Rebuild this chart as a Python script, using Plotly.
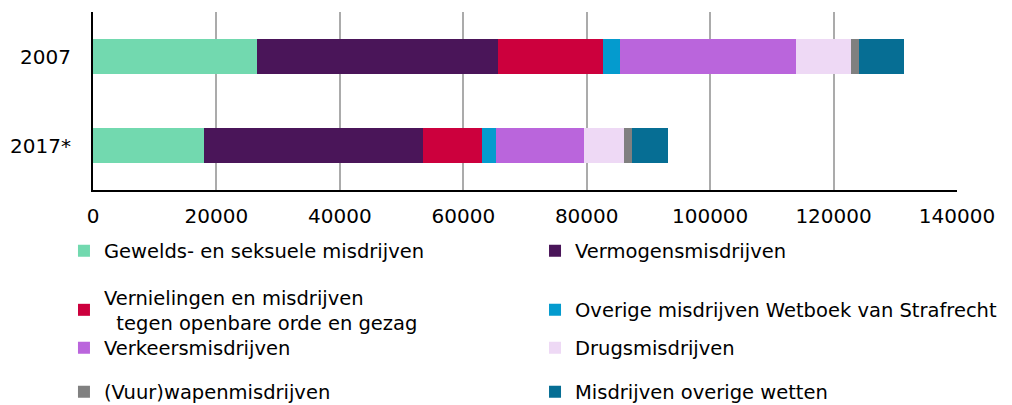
import plotly.graph_objects as go

categories = ["2007", "2017*"]
series_names = [
    "Gewelds- en seksuele misdrijven",
    "Vermogensmisdrijven",
    "Vernielingen en misdrijven<br>\u00a0\u00a0tegen openbare orde en gezag",
    "Overige misdrijven Wetboek van Strafrecht",
    "Verkeersmisdrijven",
    "Drugsmisdrijven",
    "(Vuur)wapenmisdrijven",
    "Misdrijven overige wetten",
]
gewelds = [26500, 18000]
vermogens = [39200, 35400]
vernielingen = [17000, 9650]
overige_sr = [2750, 2200]
verkeers = [28500, 14250]
drugs = [8800, 6600]
wapen = [1400, 1200]
overige_wetten = [7300, 5850]
values = [gewelds, vermogens, vernielingen, overige_sr, verkeers, drugs, wapen, overige_wetten]
colors = ["#72D9AF", "#4A1559", "#CC003D", "#049BCE", "#BA65DC", "#EED9F5", "#808080", "#066E94"]
x_ticks = [0, 20000, 40000, 60000, 80000, 100000, 120000, 140000]

FONT = "DejaVu Sans"
FS = 20
LFS = 19.5
fig = go.Figure()
legend_ids = ["legend", "legend2", "legend3", "legend4", "legend5", "legend6", "legend7", "legend8"]
for name, vals, col, lid in zip(series_names, values, colors, legend_ids):
    fig.add_trace(go.Bar(
        y=categories, x=vals, name=name, orientation="h",
        marker=dict(color=col, line=dict(width=0)), legend=lid,
    ))

# legend placement (paper coords)
col_x = [-0.0336, 0.5116]
row_y = [-0.3427, -0.674, -0.8876, -1.1348]
layout_legends = {}
for i, lid in enumerate(legend_ids):
    layout_legends[lid] = dict(
        x=col_x[i % 2], y=row_y[i // 2], xanchor="left", yanchor="middle",
        orientation="v", font=dict(family=FONT, size=LFS, color="#000000"),
        bgcolor="rgba(0,0,0,0)", borderwidth=0,
    )

fig.update_layout(
    barmode="stack",
    bargap=0.6,
    width=1004, height=397,
    margin=dict(l=85, r=55, t=4, b=215, autoexpand=False),
    plot_bgcolor="white", paper_bgcolor="white",
    font=dict(family=FONT, size=FS, color="#000000"),
    showlegend=True,
    xaxis=dict(
        range=[0, 140000], tickvals=x_ticks, ticktext=[str(v) for v in x_ticks],
        showgrid=True, gridcolor="#ABABAB", gridwidth=2,
        showline=True, linecolor="#000000", linewidth=2,
        ticks="", zeroline=False, ticklabelstandoff=7,
        tickfont=dict(family=FONT, size=FS),
    ),
    yaxis=dict(
        autorange="reversed", showgrid=False,
        showline=True, linecolor="#000000", linewidth=2,
        ticks="", ticklabelstandoff=16,
        tickfont=dict(family=FONT, size=FS),
    ),
    **layout_legends,
)

fig.write_html("out.html")
